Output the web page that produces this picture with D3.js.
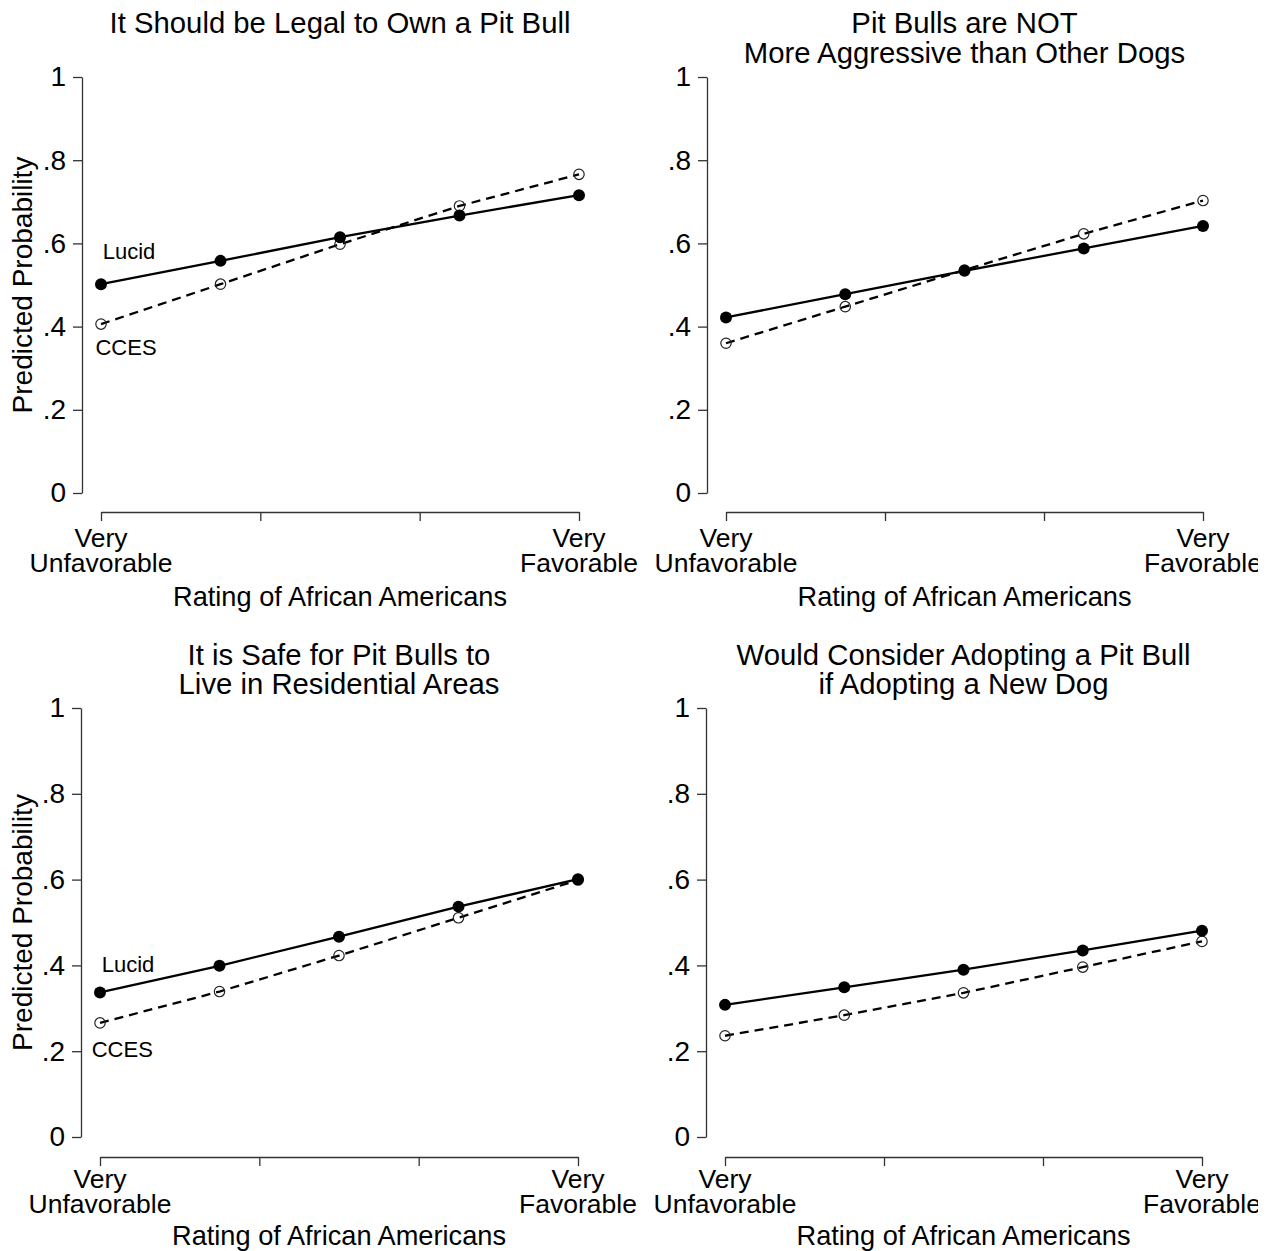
<!DOCTYPE html>
<html>
<head>
<meta charset="utf-8">
<script src="https://cdn.jsdelivr.net/npm/d3@7/dist/d3.min.js"></script>
<style>
  html, body { margin: 0; padding: 0; background: #fff; }
  svg { display: block; overflow: hidden; }
  text { font-family: "Liberation Sans", Arial, sans-serif; fill: #000; }
</style>
</head>
<body>
<svg id="chart" width="1258" height="1251"></svg>
<script>
// ---------------- DATA ----------------
const xValues = [1, 1.75, 2.5, 3.25, 4];
const xTickValues = [1, 2, 3, 4];
const xTickLabels = [["Very", "Unfavorable"], [], [], ["Very", "Favorable"]];
const yTickValues = [0, 0.2, 0.4, 0.6, 0.8, 1];
const yTickLabels = ["0", ".2", ".4", ".6", ".8", "1"];
const seriesNames = ["Lucid", "CCES"];

const panelTitles = [
  ["It Should be Legal to Own a Pit Bull"],
  ["Pit Bulls are NOT", "More Aggressive than Other Dogs"],
  ["It is Safe for Pit Bulls to", "Live in Residential Areas"],
  ["Would Consider Adopting a Pit Bull", "if Adopting a New Dog"]
];

const lucidValues = [
  [0.502, 0.558, 0.615, 0.667, 0.716],
  [0.422, 0.478, 0.534, 0.588, 0.642],
  [0.337, 0.399, 0.467, 0.537, 0.601],
  [0.308, 0.349, 0.390, 0.435, 0.481]
];
const ccesValues = [
  [0.406, 0.502, 0.598, 0.690, 0.766],
  [0.360, 0.448, 0.536, 0.623, 0.703],
  [0.266, 0.339, 0.423, 0.511, 0.599],
  [0.236, 0.284, 0.336, 0.396, 0.456]
];

// series label annotations (panel index, text, x, y in data units)
const annotPanel = [0, 0, 2, 2];
const annotText  = ["Lucid", "CCES", "Lucid", "CCES"];
const annotX     = [1.176, 1.157, 1.176, 1.14];
const annotY     = [0.581, 0.350, 0.403, 0.203];

const yAxisTitle = "Predicted Probability";
const xAxisTitle = "Rating of African Americans";

// ---------------- LAYOUT ----------------
const panels = [
  { xr: [101, 579], yr: [493, 77],  yAxisX: 82,  xAxisY: 512,  titleY: 33,  titleDy: 30, tickY1: 547,  tickY2: 572,  xTitleY: 606,  yTitle: true },
  { xr: [726, 1203], yr: [493, 77], yAxisX: 707, xAxisY: 512,  titleY: 33,  titleDy: 30, tickY1: 547,  tickY2: 572,  xTitleY: 606,  yTitle: false },
  { xr: [100, 578], yr: [1137, 708], yAxisX: 81, xAxisY: 1157, titleY: 665, titleDy: 29, tickY1: 1188, tickY2: 1213, xTitleY: 1245, yTitle: true },
  { xr: [725, 1202], yr: [1137, 708], yAxisX: 706, xAxisY: 1157, titleY: 665, titleDy: 29, tickY1: 1188, tickY2: 1213, xTitleY: 1245, yTitle: false }
];

const svg = d3.select("#chart");
const axisColor = "#333";

panels.forEach((p, i) => {
  const g = svg.append("g");
  const x = d3.scaleLinear().domain([1, 4]).range(p.xr);
  const y = d3.scaleLinear().domain([0, 1]).range(p.yr);

  // title
  panelTitles[i].forEach((t, k) => {
    g.append("text")
      .attr("x", (p.xr[0] + p.xr[1]) / 2)
      .attr("y", p.titleY + k * p.titleDy)
      .attr("text-anchor", "middle")
      .style("font-size", "29.3px")
      .text(t);
  });

  // y axis
  const yAxis = d3.axisLeft(y)
    .tickValues(yTickValues)
    .tickFormat((d, j) => yTickLabels[j])
    .tickSize(9).tickSizeOuter(0).tickPadding(7);
  const ya = g.append("g").attr("transform", `translate(${p.yAxisX},0)`).call(yAxis);
  ya.select(".domain").attr("stroke", axisColor).attr("stroke-width", 1.3);
  ya.selectAll(".tick line").attr("stroke", axisColor).attr("stroke-width", 1.3);
  ya.selectAll(".tick text").style("font-size", "28px").style("font-family", '"Liberation Sans", Arial, sans-serif').attr("fill", "#000");

  // x axis
  const xAxis = d3.axisBottom(x)
    .tickValues(xTickValues)
    .tickFormat("")
    .tickSize(9).tickSizeOuter(0);
  const xa = g.append("g").attr("transform", `translate(0,${p.xAxisY})`).call(xAxis);
  xa.select(".domain").attr("stroke", axisColor).attr("stroke-width", 1.3);
  xa.selectAll(".tick line").attr("stroke", axisColor).attr("stroke-width", 1.3);
  xTickValues.forEach((v, j) => {
    const lines = xTickLabels[j];
    lines.forEach((ln, k) => {
      g.append("text")
        .attr("x", x(v))
        .attr("y", k === 0 ? p.tickY1 : p.tickY2)
        .attr("text-anchor", "middle")
        .style("font-size", "26.5px")
        .text(ln);
    });
  });

  // axis titles
  g.append("text")
    .attr("x", (p.xr[0] + p.xr[1]) / 2)
    .attr("y", p.xTitleY)
    .attr("text-anchor", "middle")
    .style("font-size", "27.2px")
    .text(xAxisTitle);
  if (p.yTitle) {
    const cy = (p.yr[0] + p.yr[1]) / 2;
    g.append("text")
      .attr("transform", `translate(32,${cy}) rotate(-90)`)
      .attr("text-anchor", "middle")
      .style("font-size", "28px")
      .text(yAxisTitle);
  }

  const line = d3.line().x((d, j) => x(xValues[j])).y(d => y(d));

  // CCES dashed with hollow circles
  g.append("path")
    .datum(ccesValues[i])
    .attr("d", line)
    .attr("fill", "none")
    .attr("stroke", "#000")
    .attr("stroke-width", 2.3)
    .attr("stroke-dasharray", "9,6");
  g.selectAll(".cces").data(ccesValues[i]).enter().append("circle")
    .attr("cx", (d, j) => x(xValues[j]))
    .attr("cy", d => y(d))
    .attr("r", 5.2)
    .attr("fill", "none")
    .attr("stroke", "#222")
    .attr("stroke-width", 1.2);

  // Lucid solid with filled circles
  g.append("path")
    .datum(lucidValues[i])
    .attr("d", line)
    .attr("fill", "none")
    .attr("stroke", "#000")
    .attr("stroke-width", 2.3);
  g.selectAll(".lucid").data(lucidValues[i]).enter().append("circle")
    .attr("cx", (d, j) => x(xValues[j]))
    .attr("cy", d => y(d))
    .attr("r", 6)
    .attr("fill", "#000");

  // annotations
  annotPanel.forEach((pi, k) => {
    if (pi !== i) return;
    g.append("text")
      .attr("x", x(annotX[k]))
      .attr("y", y(annotY[k]))
      .attr("text-anchor", "middle")
      .attr("dominant-baseline", "central")
      .style("font-size", "22px")
      .text(annotText[k]);
  });
});
</script>
</body>
</html>
